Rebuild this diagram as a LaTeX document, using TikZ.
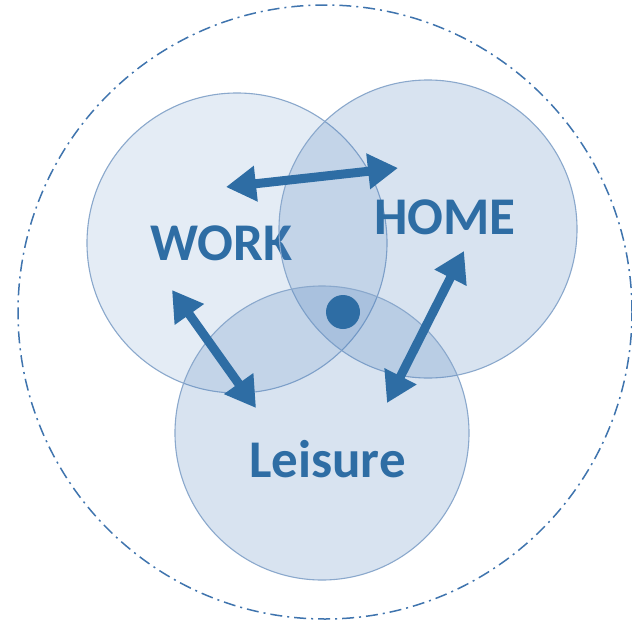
\documentclass[tikz,border=0pt]{standalone}
\usepackage{fontspec}
\setmainfont{Carlito}
\usetikzlibrary{arrows.meta}
\definecolor{vblue}{HTML}{2E6DA4}
\definecolor{cfill}{HTML}{4F81BD}
\definecolor{cline}{HTML}{8AA8CC}
\definecolor{outerc}{HTML}{3F74AE}
\tikzset{
  zone/.style={draw=cline, line width=1.1pt, fill=cfill},
  lbl/.style={text=vblue, font=\bfseries\fontsize{53}{53}\selectfont, inner sep=0pt, anchor=base west},
  dbl/.style={draw=vblue, line width=9pt, {Triangle[length=30pt,width=34pt]}-{Triangle[length=30pt,width=34pt]}, shorten <=0pt, shorten >=0pt},
}
\begin{document}
\begin{tikzpicture}[x=1pt,y=-1pt]
\useasboundingbox (0,0) rectangle (632,624);
\fill[white] (0,0) rectangle (632,624);
% outer boundary
\node[circle, minimum size=614pt, draw=outerc, line width=1.5pt, dash pattern=on 12pt off 5pt on 2pt off 5pt, inner sep=0pt] (outer) at (325,312) {};
% work
\node[circle, zone, fill opacity=0.15, minimum size=300pt, inner sep=0pt] (work) at (237,243) {};
\node[lbl] (worklbl) at (150,260) {WORK};
% home
\node[circle, zone, fill opacity=0.22, minimum size=298pt, inner sep=0pt] (home) at (428,229) {};
\node[lbl] (homelbl) at (374,234) {HOME};
% leisure
\node[circle, zone, fill opacity=0.22, minimum size=294pt, inner sep=0pt] (leisure) at (322,433) {};
\node[lbl] (leislbl) at (249,477) {Leisure};
% centre dot
\node[circle, fill=vblue, minimum size=34pt, inner sep=0pt] (dot) at (343,312) {};
% arrows
\coordinate (a1) at (226,187);
\coordinate (b1) at (398,168);
\coordinate (a2) at (172,290);
\coordinate (b2) at (256,408);
\coordinate (a3) at (464,251);
\coordinate (b3) at (387,403);
\draw[dbl] (a1) -- (b1);
\draw[dbl] (a2) -- (b2);
\draw[dbl] (a3) -- (b3);
\end{tikzpicture}
\end{document}
